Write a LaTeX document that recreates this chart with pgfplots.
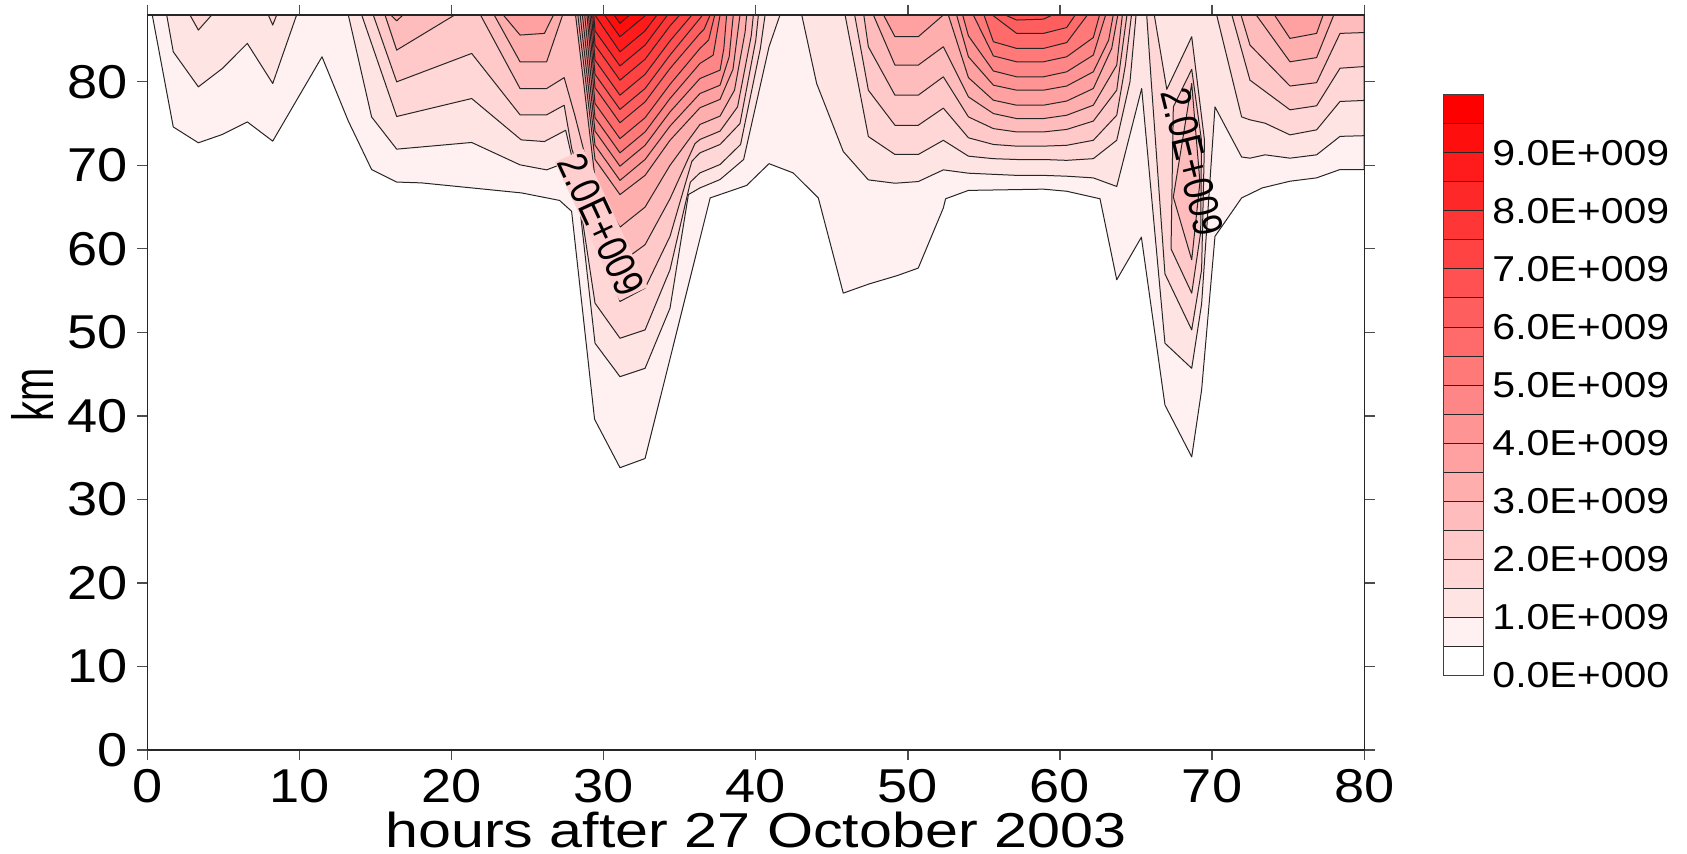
\documentclass[border=0pt]{standalone}
\usepackage{fontspec}
\setmainfont{Liberation Sans}[FakeStretch=1.14]
\newfontfamily\uprightsans{Liberation Sans}
\usepackage{graphicx}
\usepackage{pgfplots}
\pgfplotsset{compat=1.18}

% one filled contour band: region above a level, white to red over 19 levels (0.5E9 apart)
\tikzset{lv/.style={draw=black!85, line width=0.4pt, line join=round, fill=red!#1!white}}
% contour value written along its line
\newcommand{\clabel}[1]{\scalebox{1}[1.2]{\uprightsans\fontsize{14}{14}\selectfont #1}}

\begin{document}
\begin{tikzpicture}
\useasboundingbox (-58.96pt,-41.6pt) rectangle (615.84pt,300pt);
\begin{axis}[
  at={(0pt,0pt)}, anchor=south west,
  scale only axis, width=486.72pt, height=294pt,
  xmin=0, xmax=80, ymin=0, ymax=88,
  xtick={0,10,...,80}, ytick={0,10,...,80},
  tick align=outside, major tick length=4.2pt,
  tick style={black!70, line width=0.5pt},
  axis line style={black!85, line width=0.5pt},
  axis on top,
  /pgf/number format/assume math mode=true,
  ticklabel style={font=\fontsize{19}{19}\selectfont},
  xlabel={\scalebox{1.06}[1]{hours after 27 October 2003}},
  xlabel style={font=\fontsize{19.6}{19.6}\selectfont, at={(axis description cs:0.5,0)},
    anchor=north, inner sep=0pt, yshift=-24.6pt},
  ylabel={\scalebox{1}[1.45]{\uprightsans\fontsize{16}{16}\selectfont km}},
  ylabel style={at={(axis description cs:0,0.483)}, anchor=center, inner sep=0pt, yshift=46pt},
]
% level 0.5E9
\addplot[lv=5.3] coordinates {(0.32,88) (1.70,74.6) (3.35,72.7) (4.93,73.7) (6.57,75.2) (8.24,72.9) (9.81,77.8) (11.48,83.0) (13.21,75.3) (14.74,69.5) (16.39,68.0) (18.03,67.9) (24.6,66.7) (27.1,65.8) (27.89,64.5) (29.4,39.6) (31.07,33.8) (32.72,34.9) (34.45,47.5) (37.0,66.1) (39.4,67.6) (40.87,70.2) (42.45,69.1) (44.11,66.1) (45.75,54.7) (47.45,55.8) (49.3,56.8) (50.68,57.7) (52.33,64.9) (52.48,66.0) (53.98,67.0) (58.91,67.15) (60.44,66.9) (62.63,66.0) (63.73,56.3) (65.35,61.4) (66.9,41.3) (68.66,35.1) (69.31,43.1) (70.19,61.5) (71.94,66.1) (73.3,67.3) (75.12,68.1) (76.87,68.5) (78.41,69.5) (80,69.5) (80,88)} --cycle;
% level 1.0E9
\addplot[lv=10.5] coordinates {(1.27,88) (1.70,83.6) (3.35,79.4) (4.93,81.6) (6.57,84.6) (8.24,79.8) (9.81,88)} --cycle;
\addplot[lv=10.5] coordinates {(13.21,88) (14.74,75.8) (16.39,71.94) (21.32,72.74) (24.5,70.06) (26.25,69.46) (27.68,70.46) (28.22,68.3) (29.43,48.7) (31.07,44.7) (32.72,45.7) (34.36,52.9) (35.57,66.5) (36.33,67.3) (37.65,68.3) (39.2,70.7) (40.87,84.2) (41.59,88)} --cycle;
\addplot[lv=10.5] coordinates {(43.02,88) (44.0,79.8) (45.75,71.66) (47.4,68.26) (49.15,67.86) (50.68,68.06) (52.33,69.46) (53.98,69.06) (57.15,68.8) (58.91,68.8) (60.44,68.7) (62.19,68.5) (63.73,67.47) (65.37,79.2) (66.9,48.7) (68.66,45.7) (69.31,53.4) (70.19,77) (71.94,71.0) (72.49,70.86) (73.48,71.26) (75.12,70.86) (76.87,71.26) (78.41,73.47) (80,73.55) (80,88)} --cycle;
% level 1.5E9
\addplot[lv=15.8] coordinates {(2.8,88) (3.35,86.2) (4.23,88)} --cycle;
\addplot[lv=15.8] coordinates {(7.95,88) (8.24,86.8) (8.5,88)} --cycle;
\addplot[lv=15.8] coordinates {(14.09,88) (16.39,75.85) (21.32,78.0) (24.58,73.05) (26.1,72.85) (27.5,74.2) (28.1,69.5) (29.43,53.5) (31.07,49.3) (32.72,50.3) (34.36,57.5) (35.7,68.0) (36.33,69.1) (37.65,70.1) (39.0,72.5) (40.3,84) (40.61,88)} --cycle;
\addplot[lv=15.8] coordinates {(45.87,88) (47.4,73.45) (49.15,71.3) (50.68,71.3) (52.33,73.0) (53.98,71.1) (55.62,70.8) (57.15,70.7) (58.91,70.7) (60.44,70.6) (62.19,70.8) (63.73,73) (64.6,80) (65.0,88)} --cycle;
\addplot[lv=15.8] coordinates {(65.7,88) (66.0,80) (66.9,57) (68.66,50.3) (69.31,57.5) (69.5,73) (68.66,85.4) (67.02,79.1) (66.2,88)} --cycle;
\addplot[lv=15.8] coordinates {(70.3,88) (71.94,75.8) (72.49,75.45) (73.48,75.05) (75.12,73.65) (76.87,74.25) (78.41,77.65) (80,77.77) (80,88)} --cycle;
% level 2.0E9
\addplot[lv=21.1] coordinates {(14.85,88) (16.39,80.0) (21.32,83.4) (24.5,76.05) (26.25,76.05) (27.4,77.2) (27.9,72) (31.07,53.7) (32.72,55.3) (34.36,61.5) (35.8,70.5) (36.33,71.5) (37.65,72.5) (38.96,75) (40.0,85) (40.17,88)} --cycle;
\addplot[lv=21.1] coordinates {(46.5,88) (47.4,79.0) (49.15,74.8) (50.68,74.8) (52.33,76.85) (53.98,73.3) (55.62,72.5) (57.15,72.3) (58.91,72.3) (60.44,72.4) (62.19,73.0) (63.73,76) (64.3,82) (64.7,88)} --cycle;
\addplot[lv=21.1] coordinates {(67.3,60) (67.45,77) (68.66,81.5) (69.3,73) (69.25,62) (68.66,54.7)} --cycle;
\addplot[lv=21.1] coordinates {(71.3,88) (72.49,80.2) (75.12,76.65) (76.87,77.13) (78.41,81.63) (80,81.83) (80,88)} --cycle;
% level 2.5E9
\addplot[lv=26.3] coordinates {(15.62,88) (16.39,83.8) (20.2,88)} --cycle;
\addplot[lv=26.3] coordinates {(21.9,88) (24.5,79.2) (26.25,79.2) (27.4,80.5) (28.1,76) (29.43,66.5) (31.07,58.3) (32.72,60.5) (34.36,66.0) (36.0,72.6) (36.33,73.1) (37.65,74.1) (38.8,77) (39.7,85.5) (39.84,88)} --cycle;
\addplot[lv=26.3] coordinates {(47.1,88) (47.4,84.2) (49.15,78.4) (50.68,78.4) (52.33,80.6) (53.98,75.8) (55.62,74.4) (57.15,74.0) (58.91,74.0) (60.44,74.3) (62.19,75.3) (63.73,79) (64.4,88)} --cycle;
\addplot[lv=26.3] coordinates {(67.45,66.2) (68.66,79.8) (69.2,68) (68.66,58.7)} --cycle;
\addplot[lv=26.3] coordinates {(71.9,88) (72.49,84.4) (75.12,79.5) (76.87,79.9) (78.41,85.8) (80,85.9) (80,88)} --cycle;
% level 3.0E9
\addplot[lv=31.6] coordinates {(16.0,88) (16.39,87.3) (16.8,88)} --cycle;
\addplot[lv=31.6] coordinates {(22.8,88) (24.5,82.4) (26.25,82.4) (27.3,88)} --cycle;
\addplot[lv=31.6] coordinates {(28.15,88) (29.5,67.4) (31.07,62.6) (32.72,65.0) (34.36,70.0) (36.33,74.9) (37.65,75.9) (38.6,79) (39.3,86) (39.4,88)} --cycle;
\addplot[lv=31.6] coordinates {(47.73,88) (49.15,82.0) (50.68,82.0) (52.33,84.2) (53.98,78.2) (55.62,76.2) (57.15,75.6) (58.91,75.6) (60.44,76.0) (62.19,77.2) (63.73,82) (64.1,88)} --cycle;
\addplot[lv=31.6] coordinates {(72.9,88) (75.12,82.4) (76.87,82.9) (78.0,88)} --cycle;
% level 3.5E9
\addplot[lv=36.8] coordinates {(23.4,88) (24.5,85.6) (26.1,85.8) (26.7,88)} --cycle;
\addplot[lv=36.8] coordinates {(28.3,88) (29.43,70.7) (31.07,66.5) (32.72,68.8) (34.36,73.0) (36.33,76.9) (37.65,77.9) (38.5,81.5) (38.96,88)} --cycle;
\addplot[lv=36.8] coordinates {(48.4,88) (49.15,85.4) (50.68,85.4) (52.33,88)} --cycle;
\addplot[lv=36.8] coordinates {(52.66,88) (53.98,80.5) (55.62,77.8) (57.15,77.2) (58.91,77.2) (60.44,77.7) (62.19,79.2) (63.4,84) (63.8,88)} --cycle;
\addplot[lv=36.8] coordinates {(74.1,88) (75.12,85.2) (76.87,85.8) (77.3,88)} --cycle;
% level 4.0E9
\addplot[lv=42.1] coordinates {(28.45,88) (29.43,72.4) (31.07,68.2) (32.72,70.7) (34.36,74.7) (36.33,78.6) (37.65,79.6) (38.25,83) (38.52,88)} --cycle;
\addplot[lv=42.1] coordinates {(53.2,88) (53.98,83.0) (55.62,79.6) (57.15,79.0) (58.91,79.0) (60.44,79.5) (62.19,81.2) (63.2,85) (63.5,88)} --cycle;
% level 4.5E9
\addplot[lv=47.4] coordinates {(28.6,88) (29.43,74.1) (31.07,69.9) (32.72,72.4) (34.36,76.4) (36.33,80.4) (37.65,81.4) (37.9,84) (38.08,88)} --cycle;
\addplot[lv=47.4] coordinates {(53.6,88) (53.98,85.5) (55.62,81.3) (57.15,80.6) (58.91,80.6) (60.44,81.2) (62.19,83.2) (63.0,88)} --cycle;
% level 5.0E9
\addplot[lv=52.6] coordinates {(28.75,88) (29.43,75.7) (31.07,71.5) (32.72,74.0) (34.36,78.0) (36.33,82.2) (37.2,83.2) (37.65,88)} --cycle;
\addplot[lv=52.6] coordinates {(54.3,88) (55.62,83.1) (57.15,82.4) (58.91,82.4) (60.44,83.0) (62.19,85.3) (62.6,88)} --cycle;
% level 5.5E9
\addplot[lv=57.9] coordinates {(28.9,88) (29.43,77.4) (31.07,73.2) (32.72,75.7) (34.36,79.7) (36.33,84.0) (36.9,85) (37.3,88)} --cycle;
\addplot[lv=57.9] coordinates {(55.0,88) (55.62,84.8) (57.15,84.0) (58.91,84.0) (60.44,84.7) (61.8,88)} --cycle;
% level 6.0E9
\addplot[lv=63.2] coordinates {(29.0,88) (29.43,79.3) (31.07,75.1) (32.72,77.6) (34.36,81.6) (36.33,85.8) (36.6,86.3) (37.0,88)} --cycle;
\addplot[lv=63.2] coordinates {(55.55,88) (57.15,85.8) (58.91,85.8) (60.44,86.5) (61.0,88)} --cycle;
% level 6.5E9
\addplot[lv=68.4] coordinates {(29.1,88) (29.43,80.9) (31.07,76.7) (32.72,79.2) (34.36,83.2) (36.33,87.6) (36.5,88)} --cycle;
\addplot[lv=68.4] coordinates {(56.4,88) (57.15,87.4) (58.91,87.5) (59.5,88)} --cycle;
% levels 7.0E9 to 9.5E9
\addplot[lv=73.7] coordinates {(29.2,88) (29.43,82.6) (31.07,78.4) (32.72,80.9) (34.36,84.9) (35.8,88)} --cycle;
\addplot[lv=78.9] coordinates {(29.28,88) (29.43,84.4) (31.07,80.2) (32.72,82.7) (34.36,86.7) (35.0,88)} --cycle;
\addplot[lv=84.2] coordinates {(29.35,88) (29.43,86.1) (31.07,81.9) (32.72,84.4) (34.2,88)} --cycle;
\addplot[lv=89.5] coordinates {(29.42,88) (31.07,83.6) (32.72,86.1) (33.5,88)} --cycle;
\addplot[lv=94.7] coordinates {(30.05,88) (31.07,85.4) (32.72,87.9) (32.8,88)} --cycle;
\addplot[lv=100] coordinates {(30.68,88) (31.07,87.0) (31.7,88)} --cycle;
% contour labels on the 2.0E9 lines
\node[rotate=-65, fill=red!19!white, inner sep=0.3pt] at (axis cs:29.85,62.9) {\clabel{2.0E+009}};
\node[rotate=-76, inner sep=0.3pt] at (axis cs:68.7,70.4) {\clabel{2.0E+009}};
\end{axis}

% colour scale
\begin{axis}[
  at={(518.56pt,29.76pt)}, anchor=south west,
  scale only axis, width=15.92pt, height=232.36pt,
  xmin=0, xmax=1, ymin=0, ymax=10,
  xtick=\empty, ytick={0,1,...,9},
  yticklabels={0.0E+000,1.0E+009,2.0E+009,3.0E+009,4.0E+009,5.0E+009,6.0E+009,7.0E+009,8.0E+009,9.0E+009},
  yticklabel pos=right, major tick length=0pt,
  axis line style={black!75, line width=0.5pt},
  axis on top,
  ticklabel style={font=\fontsize{14.4}{14.4}\selectfont},
]
\addplot[lv=0]    coordinates {(0,0.0)(1,0.0)(1,0.5)(0,0.5)} --cycle;
\addplot[lv=5.3]  coordinates {(0,0.5)(1,0.5)(1,1.0)(0,1.0)} --cycle;
\addplot[lv=10.5] coordinates {(0,1.0)(1,1.0)(1,1.5)(0,1.5)} --cycle;
\addplot[lv=15.8] coordinates {(0,1.5)(1,1.5)(1,2.0)(0,2.0)} --cycle;
\addplot[lv=21.1] coordinates {(0,2.0)(1,2.0)(1,2.5)(0,2.5)} --cycle;
\addplot[lv=26.3] coordinates {(0,2.5)(1,2.5)(1,3.0)(0,3.0)} --cycle;
\addplot[lv=31.6] coordinates {(0,3.0)(1,3.0)(1,3.5)(0,3.5)} --cycle;
\addplot[lv=36.8] coordinates {(0,3.5)(1,3.5)(1,4.0)(0,4.0)} --cycle;
\addplot[lv=42.1] coordinates {(0,4.0)(1,4.0)(1,4.5)(0,4.5)} --cycle;
\addplot[lv=47.4] coordinates {(0,4.5)(1,4.5)(1,5.0)(0,5.0)} --cycle;
\addplot[lv=52.6] coordinates {(0,5.0)(1,5.0)(1,5.5)(0,5.5)} --cycle;
\addplot[lv=57.9] coordinates {(0,5.5)(1,5.5)(1,6.0)(0,6.0)} --cycle;
\addplot[lv=63.2] coordinates {(0,6.0)(1,6.0)(1,6.5)(0,6.5)} --cycle;
\addplot[lv=68.4] coordinates {(0,6.5)(1,6.5)(1,7.0)(0,7.0)} --cycle;
\addplot[lv=73.7] coordinates {(0,7.0)(1,7.0)(1,7.5)(0,7.5)} --cycle;
\addplot[lv=78.9] coordinates {(0,7.5)(1,7.5)(1,8.0)(0,8.0)} --cycle;
\addplot[lv=84.2] coordinates {(0,8.0)(1,8.0)(1,8.5)(0,8.5)} --cycle;
\addplot[lv=89.5] coordinates {(0,8.5)(1,8.5)(1,9.0)(0,9.0)} --cycle;
\addplot[lv=94.7] coordinates {(0,9.0)(1,9.0)(1,9.5)(0,9.5)} --cycle;
\addplot[lv=100]  coordinates {(0,9.5)(1,9.5)(1,10)(0,10)} --cycle;
\end{axis}
\end{tikzpicture}
\end{document}
